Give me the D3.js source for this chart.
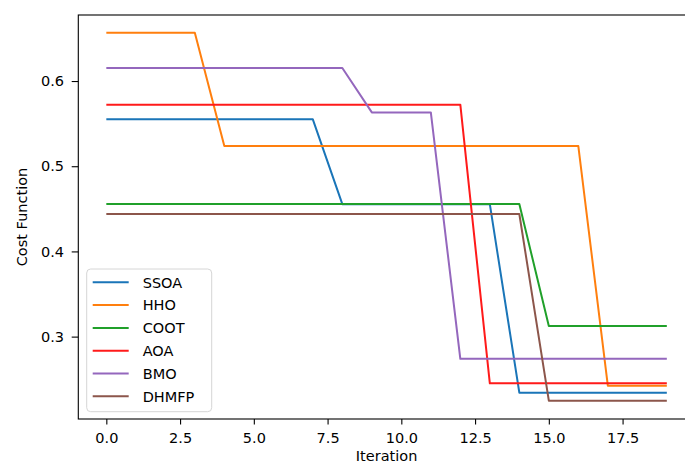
<!DOCTYPE html>
<html>
<head>
<meta charset="utf-8">
<script src="https://d3js.org/d3.v7.min.js"></script>
<style>
  body { margin: 0; background: #fff; }
  text { font-family: "DejaVu Sans", sans-serif; fill: #000; }
</style>
</head>
<body>
<svg id="vis"></svg>
<script>
  // values, one per iteration 0..19
  var iterations = d3.range(0, 20)
  var ssoa  = [0.555,0.555,0.555,0.555,0.555,0.555,0.555,0.555,0.4555,0.4555,0.4555,0.4555,0.4555,0.4555,0.2342,0.2342,0.2342,0.2342,0.2342,0.2342]
  var hho   = [0.6567,0.6567,0.6567,0.6567,0.5237,0.5237,0.5237,0.5237,0.5237,0.5237,0.5237,0.5237,0.5237,0.5237,0.5237,0.5237,0.5237,0.2424,0.2424,0.2424]
  var coot  = [0.4556,0.4556,0.4556,0.4556,0.4556,0.4556,0.4556,0.4556,0.4556,0.4556,0.4556,0.4556,0.4556,0.4556,0.4556,0.3124,0.3124,0.3124,0.3124,0.3124]
  var aoa   = [0.5722,0.5722,0.5722,0.5722,0.5722,0.5722,0.5722,0.5722,0.5722,0.5722,0.5722,0.5722,0.5722,0.2452,0.2452,0.2452,0.2452,0.2452,0.2452,0.2452]
  var bmo   = [0.6153,0.6153,0.6153,0.6153,0.6153,0.6153,0.6153,0.6153,0.6153,0.5632,0.5632,0.5632,0.274,0.274,0.274,0.274,0.274,0.274,0.274,0.274]
  var dhmfp = [0.4439,0.4439,0.4439,0.4439,0.4439,0.4439,0.4439,0.4439,0.4439,0.4439,0.4439,0.4439,0.4439,0.4439,0.4439,0.2248,0.2248,0.2248,0.2248,0.2248]

  var names = ['SSOA', 'HHO', 'COOT', 'AOA', 'BMO', 'DHMFP']
  var seriesValues = [ssoa, hho, coot, aoa, bmo, dhmfp]
  var colors = ['#1a75b8', '#ff7f0e', '#20a02a', '#ff1a1a', '#9467bd', '#8c564b']
  var xTicks = [0, 2.5, 5, 7.5, 10, 12.5, 15, 17.5]
  var yTicks = [0.3, 0.4, 0.5, 0.6]

  var W = 685, H = 463
  // plot box (window.top is read-only, so no "top" here)
  var boxLeft = 78.3, boxTop = 15, boxBottom = 419
  var boxRight = boxLeft + 20.9 * 29.5   // right spine falls just outside the picture

  var svg = d3.select('#vis').attr('width', W).attr('height', H)

  var x = d3.scaleLinear().domain([-0.95, 19.95]).range([boxLeft, boxRight])
  var y = d3.scaleLinear().domain([0.2033, 0.6775]).range([boxBottom, boxTop])

  // axes
  var xAxis = d3.axisBottom(x).tickValues(xTicks).tickFormat(d3.format('.1f'))
    .tickSize(5.5).tickPadding(7.8).tickSizeOuter(0)
  var yAxis = d3.axisLeft(y).tickValues(yTicks).tickFormat(d3.format('.1f'))
    .tickSize(6.6).tickPadding(7.7).tickSizeOuter(0)

  var gx = svg.append('g').attr('transform', 'translate(0,' + boxBottom + ')').call(xAxis)
  var gy = svg.append('g').attr('transform', 'translate(' + boxLeft + ',0)').call(yAxis)
  ;[gx, gy].forEach(function(g) {
    g.select('.domain').remove()
    g.selectAll('line').attr('stroke', '#000').attr('stroke-width', 1.1)
    g.selectAll('text').attr('font-size', '14.5px').attr('fill', '#000')
      .style('font-family', '"DejaVu Sans", sans-serif')
  })

  // lines
  var line = d3.line()
    .x(function(d, i) { return x(iterations[i]) })
    .y(function(d) { return y(d) })

  svg.append('g').selectAll('path')
    .data(seriesValues)
    .enter().append('path')
      .attr('d', line)
      .attr('fill', 'none')
      .attr('stroke', function(d, i) { return colors[i] })
      .attr('stroke-width', 2)
      .attr('stroke-linejoin', 'round')

  // frame
  svg.append('rect')
    .attr('x', boxLeft).attr('y', boxTop)
    .attr('width', boxRight - boxLeft).attr('height', boxBottom - boxTop)
    .attr('fill', 'none').attr('stroke', '#000').attr('stroke-width', 1.1)

  // axis titles
  svg.append('text')
    .attr('x', (boxLeft + boxRight) / 2).attr('y', 460.5)
    .attr('text-anchor', 'middle').attr('font-size', '14.5px')
    .text('Iteration')

  svg.append('text')
    .attr('transform', 'translate(26.5,' + ((boxTop + boxBottom) / 2) + ') rotate(-90)')
    .attr('text-anchor', 'middle').attr('font-size', '14.5px')
    .text('Cost Function')

  // legend
  var lg = svg.append('g')
  lg.append('rect')
    .attr('x', 86.7).attr('y', 269).attr('width', 125).attr('height', 142.7)
    .attr('rx', 4).attr('fill', '#fff').attr('fill-opacity', 0.8)
    .attr('stroke', '#d6d6d6').attr('stroke-width', 1)

  var rows = lg.selectAll('g.row')
    .data(names)
    .enter().append('g')
      .attr('class', 'row')
      .attr('transform', function(d, i) { return 'translate(0,' + (282.3 + i * 22.8) + ')' })

  rows.append('line')
    .attr('x1', 92.7).attr('x2', 128.7)
    .attr('stroke', function(d, i) { return colors[i] })
    .attr('stroke-width', 2)

  rows.append('text')
    .attr('x', 142.7).attr('dy', '0.36em')
    .attr('font-size', '14.5px')
    .text(function(d) { return d })
</script>
</body>
</html>
